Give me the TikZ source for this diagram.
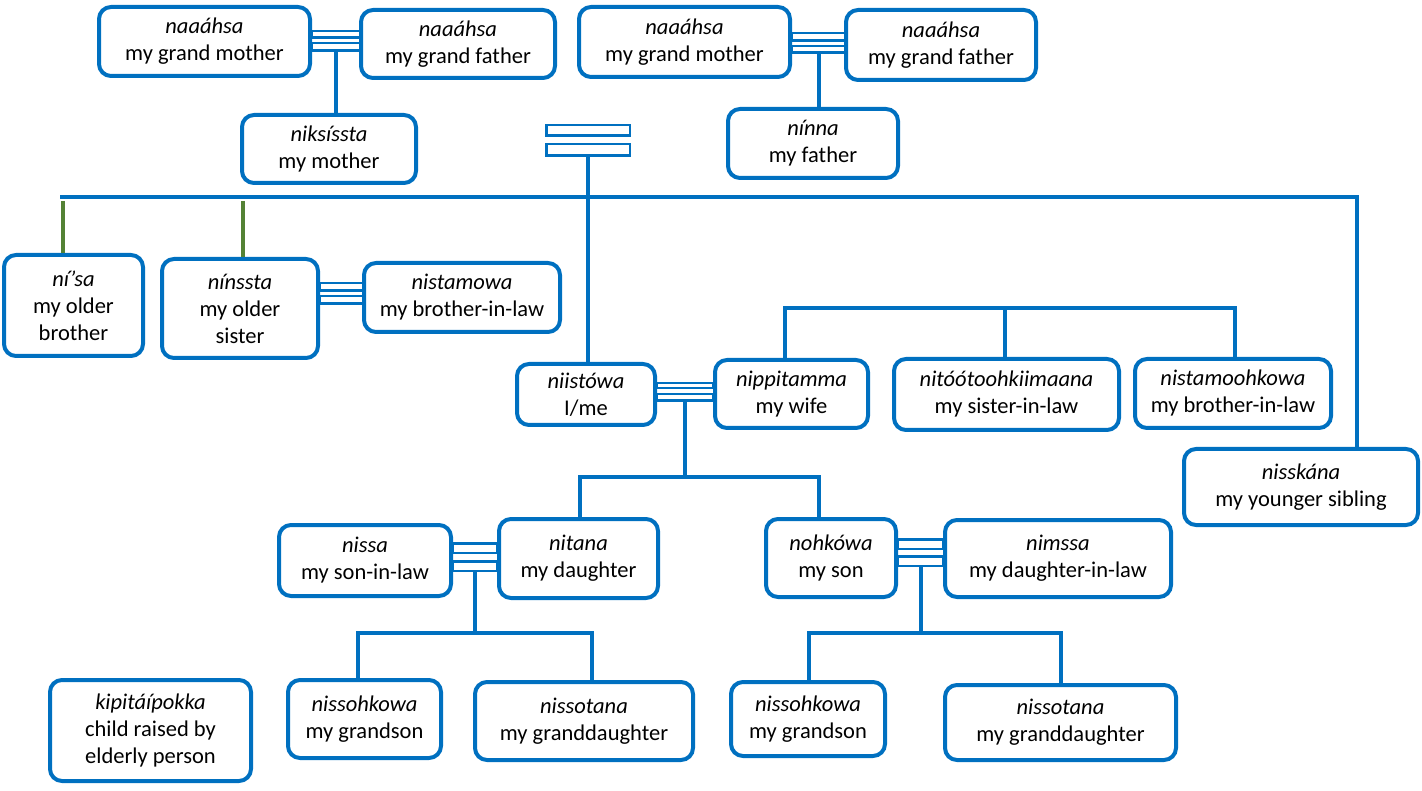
\documentclass[tikz,border=0pt]{standalone}
\usepackage{fontspec}
\setmainfont{Carlito}
\usepackage{tikz}

\definecolor{kinblue}{HTML}{0070C0}
\definecolor{kingreen}{HTML}{548235}

\tikzset{
  kin/.style 2 args={draw=kinblue, line width=4pt, rounded corners=12pt, fill=white,
    align=center, inner sep=2pt, font=\fontsize{22.5}{27}\selectfont,
    minimum width=#1pt, minimum height=#2pt},
  tie/.style 2 args={draw=kinblue, line width=2.5pt, fill=white, inner sep=0pt,
    minimum width=#1pt, minimum height=#2pt},
  link/.style={draw=kinblue, line width=4pt},
  sib/.style={draw=kingreen, line width=4pt}
}

\begin{document}
\begin{tikzpicture}[x=1pt, y=-1pt]
  \useasboundingbox (0,0) rectangle (1422,791);

  \node[tie={48}{6.5}] (M-1a) at (336,34.5) {};
  \node[tie={48}{7.5}] (M-1b) at (336,47) {};
  \node[tie={53}{7.5}] (M-2a) at (818.5,37) {};
  \node[tie={53}{6.5}] (M-2b) at (818.5,49.5) {};
  \node[tie={83.5}{10.5}] (M-3a) at (588,130.5) {};
  \node[tie={83.5}{11.5}] (M-3b) at (588,150) {};
  \node[tie={43}{7.5}] (M-4a) at (341.5,287) {};
  \node[tie={43}{7.5}] (M-4b) at (341.5,300) {};
  \node[tie={56}{5}] (M-5a) at (685,385.5) {};
  \node[tie={56}{6.5}] (M-5b) at (685,397.5) {};
  \node[tie={44}{9.5}] (M-6a) at (475,548) {};
  \node[tie={44}{9.5}] (M-6b) at (475,566) {};
  \node[tie={45}{9.5}] (M-7a) at (920.5,544) {};
  \node[tie={45}{9.5}] (M-7b) at (920.5,561) {};

  \node[kin={211}{69}] (GM-1) at (204.5,41.5) {\textit{naaáhsa}\\my grand mother};
  \node[kin={194}{68}] (GF-1) at (458,44) {\textit{naaáhsa}\\my grand father};
  \node[kin={174}{68}] (Mo) at (329,149) {\textit{niksíssta}\\my mother};
  \node[kin={211}{70}] (GM-2) at (684.5,42) {\textit{naaáhsa}\\my grand mother};
  \node[kin={190}{70}] (GF-2) at (941,45) {\textit{naaáhsa}\\my grand father};
  \node[kin={170}{69}] (Fa) at (813,143.5) {\textit{nínna}\\my father};
  \node[kin={139}{101}] (OB) at (73.5,305.5) {\textit{ní’sa}\\my older\\brother};
  \node[kin={156}{99}] (OS) at (240,308.5) {\textit{nínssta}\\my older\\sister};
  \node[kin={196}{69}] (BL-1) at (462,297.5) {\textit{nistamowa}\\my brother-in-law};
  \node[kin={138}{61}] (Me) at (586,394.5) {\textit{niistówa}\\I/me};
  \node[kin={153}{68}] (Wi) at (791.5,394) {\textit{nippitamma}\\my wife};
  \node[kin={225}{71}] (SL) at (1006.5,394.5) {\textit{nitóótoohkiimaana}\\my sister-in-law};
  \node[kin={196}{69}] (BL-2) at (1233,393.5) {\textit{nistamoohkowa}\\my brother-in-law};
  \node[kin={234}{76}] (Ys) at (1301,487) {\textit{nisskána}\\my younger sibling};
  \node[kin={172}{71}] (SiL) at (365,560.5) {\textit{nissa}\\my son-in-law};
  \node[kin={159}{79}] (Da) at (578.5,558.5) {\textit{nitana}\\my daughter};
  \node[kin={130}{78}] (So) at (831,558) {\textit{nohkówa}\\my son};
  \node[kin={226}{77}] (DiL) at (1058,558.5) {\textit{nimssa}\\my daughter-in-law};
  \node[kin={153}{78}] (GS-1) at (364.5,719) {\textit{nissohkowa}\\my grandson};
  \node[kin={218}{78}] (GD-1) at (584,721) {\textit{nissotana}\\my granddaughter};
  \node[kin={154}{74}] (GS-2) at (808,719) {\textit{nissohkowa}\\my grandson};
  \node[kin={231}{75}] (GD-2) at (1060.5,722.5) {\textit{nissotana}\\my granddaughter};
  \node[kin={201}{101}] (Ki) at (150.5,730.5) {\textit{kipitáípokka}\\child raised by\\elderly person};

  \coordinate (S-L) at (60,197);
  \coordinate (S-R) at (1357,197);
  \coordinate (S-1) at (63,201);
  \coordinate (S-2) at (243,201);
  \coordinate (W-1) at (785,308);
  \coordinate (W-2) at (1005,308);
  \coordinate (W-3) at (1235,308);
  \coordinate (C-1) at (580,477);
  \coordinate (C-2) at (819,477);
  \coordinate (D-1) at (358,633);
  \coordinate (D-2) at (592,633);
  \coordinate (E-1) at (809,633);
  \coordinate (E-2) at (1061,633);

  \draw[link] (M-1b.south) -- (M-1b.south |- Mo.north);
  \draw[link] (M-2b.south) -- (M-2b.south |- Fa.north);
  \draw[link] (M-3b.south) -- (M-3b.south |- Me.north);
  \draw[link] (S-L) -- (S-R) -- (S-R |- Ys.north);
  \draw[sib] (S-1) -- (S-1 |- OB.north);
  \draw[sib] (S-2) -- (S-2 |- OS.north);
  \draw[link] (W-1 |- Wi.north) -- (W-1) -- (W-3) -- (W-3 |- BL-2.north);
  \draw[link] (W-2) -- (W-2 |- SL.north);
  \draw[link] (M-5b.south) -- (M-5b.south |- C-1);
  \draw[link] (C-1 |- Da.north) -- (C-1) -- (C-2) -- (C-2 |- So.north);
  \draw[link] (M-6b.south) -- (M-6b.south |- D-1);
  \draw[link] (D-1 |- GS-1.north) -- (D-1) -- (D-2) -- (D-2 |- GD-1.north);
  \draw[link] (M-7b.south) -- (M-7b.south |- E-1);
  \draw[link] (E-1 |- GS-2.north) -- (E-1) -- (E-2) -- (E-2 |- GD-2.north);
\end{tikzpicture}
\end{document}
